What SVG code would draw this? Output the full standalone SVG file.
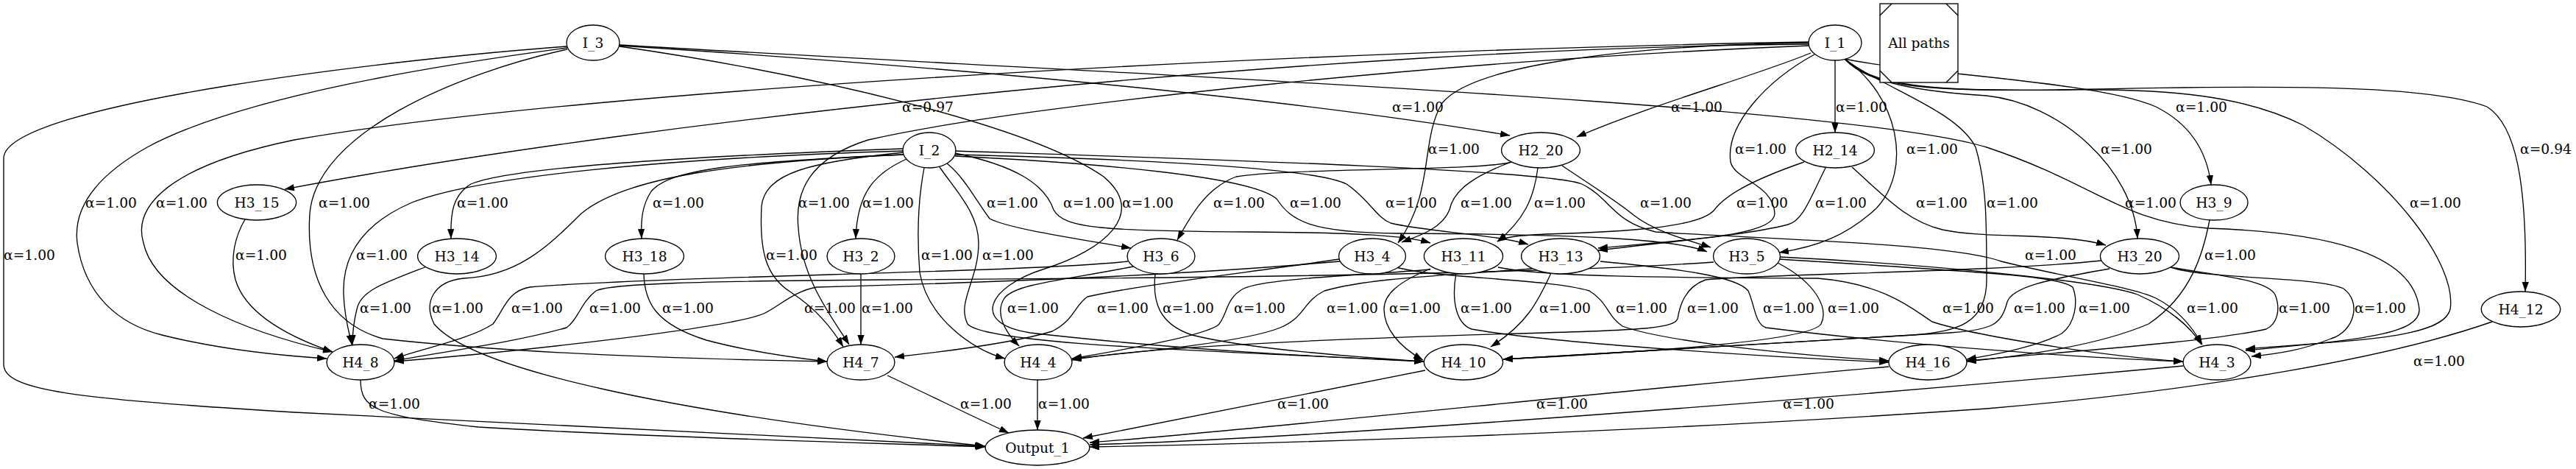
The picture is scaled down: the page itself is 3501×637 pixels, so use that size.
<svg xmlns="http://www.w3.org/2000/svg" width="3501" height="637" viewBox="0 0 3501 637">
<style>
.n ellipse{fill:#fff;stroke:#000;stroke-width:1.33}
text{font-family:"DejaVu Serif","Liberation Serif",serif;font-size:18.67px;text-anchor:middle;fill:#000}
.e path{fill:none;stroke:#000;stroke-width:1.33;marker-end:url(#a)}
</style>
<defs><marker id="a" markerWidth="14" markerHeight="10" refX="13" refY="4.65" orient="auto" markerUnits="userSpaceOnUse"><path d="M0,0 L13.3,4.65 L0,9.3 z" fill="#000"/></marker></defs>
<rect width="3501" height="637" fill="#fff"/>
<g class="e" id="edges">
<path d="M771,63 C560,78 5,140 5,215 L5,495 C5,530 100,542 400,560 L1338,606"/>
<path d="M771,65 C600,88 330,130 200,200 C120,245 100,290 105,330 C115,400 160,440 220,455 C300,475 380,483 444,487"/>
<path d="M771,67 C620,100 430,180 421,290 C415,380 450,440 520,460 C700,480 950,488 1124,491"/>
<path d="M842,62 C1200,85 1700,125 2052,184"/>
<path d="M842,61 C1500,100 2500,140 2700,200 C2850,250 2880,300 3000,310 C3150,315 3280,340 3288,420 C3290,455 3200,462 3052,476"/>
<path d="M842,63 C1100,100 1400,170 1500,240 C1560,290 1500,340 1420,365 C1340,390 1320,440 1400,452 C1600,475 1800,485 1935,491"/>
<path d="M2458,60 C1800,65 900,160 387,257"/>
<path d="M2461,72 C2380,105 2250,140 2143,186"/>
<path d="M2494,82 L2494,180"/>
<path d="M2507,80 C2600,100 2850,110 2930,145 C2980,170 3000,210 3005,251"/>
<path d="M2507,80 C2540,115 2600,125 2800,122 C3100,115 3300,115 3380,145 C3420,170 3435,250 3432,396"/>
<path d="M2458,58 C2200,62 2000,90 1960,140 C1930,190 1950,260 1900,330"/>
<path d="M2466,74 C2400,110 2345,170 2352,220 C2358,245 2410,250 2412,290 C2412,320 2300,325 2172,337"/>
<path d="M2507,80 C2580,130 2600,230 2550,283 C2510,320 2470,335 2418,343"/>
<path d="M2507,80 C2540,115 2620,125 2700,130 C2800,140 2900,230 2905,324"/>
<path d="M2458,57 C1800,68 800,120 400,190 C230,225 180,280 195,330 C210,400 330,450 452,478"/>
<path d="M2459,62 C2000,80 1400,140 1180,190 C1100,215 1080,260 1085,310 C1090,380 1130,430 1154,468"/>
<path d="M2507,80 C2560,120 2660,150 2685,200 C2700,250 2700,300 2700,380 C2700,440 2660,450 2600,455 C2400,468 2200,480 2043,488"/>
<path d="M2507,80 C2540,115 2620,125 2800,122 C2950,120 3050,130 3130,170 C3250,240 3340,360 3330,420 C3320,460 3200,462 3052,474"/>
<path d="M1227,202 C1000,210 700,225 640,250 C615,265 612,290 613,324"/>
<path d="M1228,210 C1000,220 910,230 885,260 C872,280 871,300 872,324"/>
<path d="M1232,216 C1190,235 1165,260 1163,324"/>
<path d="M1287,222 C1310,240 1325,270 1345,297 C1370,310 1450,322 1537,337"/>
<path d="M1298,208 C1380,225 1420,250 1432,285 C1445,310 1500,314 1700,315 C1850,316 1910,320 1944,330"/>
<path d="M1227,205 C900,215 650,240 560,275 C490,305 465,350 467,400 C468,430 474,450 478,468"/>
<path d="M1227,210 C1000,220 850,240 790,290 C740,340 700,375 630,378 C590,382 575,410 590,440 C640,500 900,560 1339,606"/>
<path d="M1228,207 C1100,220 1040,235 1035,280 C1032,340 1040,375 1075,397 C1110,420 1130,445 1146,471"/>
<path d="M1256,228 C1248,270 1246,320 1250,370 C1260,430 1320,475 1366,487"/>
<path d="M1277,227 C1300,260 1330,290 1330,330 C1330,380 1300,410 1315,440 C1340,470 1700,478 1935,491"/>
<path d="M1298,212 C1500,222 1700,240 1735,270 C1755,300 1780,316 1900,317 C2150,318 2280,325 2320,342"/>
<path d="M1297,210 C1500,215 1780,225 1830,250 C1860,270 1870,295 1890,303 C1940,315 2030,318 2077,332"/>
<path d="M1298,205 C1600,215 2100,230 2150,250 C2190,270 2190,300 2250,315 C2400,325 2650,330 2720,355 C2800,375 2900,390 2930,405 C2960,420 2980,445 2993,468"/>
<path d="M2054,220 C2020,232 1750,228 1680,240 C1640,255 1620,290 1600,326"/>
<path d="M2054,220 C2000,240 1975,260 1970,285 C1960,310 1930,320 1905,329"/>
<path d="M2090,228 C2085,270 2070,300 2035,328"/>
<path d="M2123,225 C2160,250 2200,275 2220,292 C2250,315 2290,325 2325,336"/>
<path d="M2517,227 C2560,265 2590,300 2640,312 C2700,325 2800,315 2862,333"/>
<path d="M2481,228 C2460,270 2450,300 2430,305 C2380,318 2300,325 2172,340"/>
<path d="M2452,220 C2380,245 2345,265 2330,285 C2310,310 2200,315 2100,318 C2060,320 2045,322 2035,328"/>
<path d="M333,298 C320,320 312,350 320,380 C335,430 400,460 452,478"/>
<path d="M580,362 C520,385 490,395 485,420 C480,440 479,455 479,468"/>
<path d="M875,372 C876,410 890,440 960,462 C1020,478 1080,486 1124,491"/>
<path d="M1170,372 L1170,468"/>
<path d="M1570,372 C1566,410 1575,440 1620,455 C1700,475 1850,485 1935,491"/>
<path d="M1944,366 C1850,374 1720,378 1690,392 C1665,405 1668,430 1655,442 C1630,458 1520,476 1457,487"/>
<path d="M1820,352 C1700,370 1560,385 1478,403 C1460,415 1460,435 1430,450 C1380,465 1280,478 1216,485"/>
<path d="M1944,365 C1900,383 1881,400 1881,420 C1881,445 1900,470 1934,489"/>
<path d="M1979,371 C1972,410 1980,440 2000,447 C2100,465 2400,485 2567,492"/>
<path d="M2108,371 C2090,410 2075,440 2026,471"/>
<path d="M2175,355 C2280,365 2360,375 2376,395 C2385,415 2385,440 2400,445 C2600,470 2850,487 2967,491"/>
<path d="M2416,357 C2470,385 2485,420 2475,440 C2460,465 2200,480 2043,488"/>
<path d="M2950,363 C3000,380 3150,375 3185,392 C3210,410 3200,450 3168,460 C3130,475 3100,480 3060,484"/>
<path d="M2419,352 C2700,370 2800,375 2817,390 C2825,410 2820,440 2802,453 C2770,470 2720,480 2673,488"/>
<path d="M3003,299 C2995,340 2980,400 2920,440 C2850,470 2750,483 2673,491"/>
<path d="M2419,349 C2600,358 2850,380 2905,400 C2950,420 2978,445 2992,468"/>
<path d="M2950,363 C3020,375 3080,380 3092,400 C3100,420 3095,440 3080,447 C3000,465 2800,478 2673,490"/>
<path d="M2867,365 C2780,380 2735,390 2728,410 C2720,440 2710,448 2650,452 C2400,465 2200,478 2043,488"/>
<path d="M2856,354 C2700,370 2400,372 2318,380 C2290,390 2283,415 2280,433 C2275,445 2240,448 2100,452 C1800,460 1550,472 1457,489"/>
<path d="M2082,365 C1950,375 1860,378 1800,395 C1770,410 1775,430 1740,445 C1690,465 1550,478 1457,487"/>
<path d="M1898,363 C1950,378 2100,378 2160,395 C2185,410 2185,430 2205,443 C2250,460 2400,480 2567,490"/>
<path d="M2036,363 C2100,377 2300,377 2470,378 C2560,385 2600,420 2626,437 C2680,455 2850,483 2967,491"/>
<path d="M1540,362 C1450,380 1380,385 1365,405 C1352,425 1365,450 1385,470"/>
<path d="M1533,355 C1400,370 900,375 720,390 C690,395 685,420 670,440 C640,460 580,472 536,487"/>
<path d="M2329,356 C2100,372 1600,378 1200,380 C950,382 830,385 810,395 C790,410 785,435 770,445 C700,465 600,478 536,490"/>
<path d="M1821,355 C1600,375 1300,385 1110,390 C1080,395 1060,415 1040,425 C1000,445 700,478 536,491"/>
<path d="M490,516 C490,555 510,565 650,580 C900,595 1200,602 1339,607"/>
<path d="M1206,510 C1260,535 1320,565 1371,588"/>
<path d="M1410,516 L1410,584"/>
<path d="M1937,503 C1800,530 1600,570 1472,595"/>
<path d="M2567,498 C2200,530 1700,585 1481,601"/>
<path d="M2967,497 C2500,540 1800,595 1481,604"/>
<path d="M3387,437 C3250,485 3000,530 2700,555 C2200,590 1700,603 1481,607"/>
</g>
<g id="labels">
<text x="1261" y="152">α=0.97</text><text x="1927" y="152">α=1.00</text><text x="2306" y="152">α=1.00</text><text x="2530" y="152">α=1.00</text><text x="2992" y="152">α=1.00</text>
<text x="1976" y="209">α=1.00</text><text x="2393" y="209">α=1.00</text><text x="2626" y="209">α=1.00</text><text x="2890" y="209">α=1.00</text><text x="3460" y="209">α=0.94</text>
<text x="151" y="282">α=1.00</text><text x="247" y="282">α=1.00</text><text x="468" y="282">α=1.00</text><text x="656" y="282">α=1.00</text><text x="922" y="282">α=1.00</text><text x="1120" y="282">α=1.00</text><text x="1207" y="282">α=1.00</text><text x="1376" y="282">α=1.00</text><text x="1480" y="282">α=1.00</text><text x="1560" y="282">α=1.00</text><text x="1684" y="282">α=1.00</text><text x="1788" y="282">α=1.00</text><text x="1918" y="282">α=1.00</text><text x="2020" y="282">α=1.00</text><text x="2120" y="282">α=1.00</text><text x="2264" y="282">α=1.00</text><text x="2395" y="282">α=1.00</text><text x="2502" y="282">α=1.00</text><text x="2639" y="282">α=1.00</text><text x="2735" y="282">α=1.00</text><text x="2923" y="282">α=1.00</text><text x="3310" y="282">α=1.00</text>
<text x="40" y="353">α=1.00</text><text x="355" y="353">α=1.00</text><text x="519" y="353">α=1.00</text><text x="1076" y="353">α=1.00</text><text x="1287" y="353">α=1.00</text><text x="1370" y="353">α=1.00</text><text x="2787" y="353">α=1.00</text><text x="3031" y="353">α=1.00</text>
<text x="524" y="425">α=1.00</text><text x="622" y="425">α=1.00</text><text x="730" y="425">α=1.00</text><text x="836" y="425">α=1.00</text><text x="935" y="425">α=1.00</text><text x="1128" y="425">α=1.00</text><text x="1206" y="425">α=1.00</text><text x="1404" y="425">α=1.00</text><text x="1526" y="425">α=1.00</text><text x="1615" y="425">α=1.00</text><text x="1712" y="425">α=1.00</text><text x="1838" y="425">α=1.00</text><text x="1923" y="425">α=1.00</text><text x="2020" y="425">α=1.00</text><text x="2127" y="425">α=1.00</text><text x="2231" y="425">α=1.00</text><text x="2328" y="425">α=1.00</text><text x="2431" y="425">α=1.00</text><text x="2519" y="425">α=1.00</text><text x="2675" y="425">α=1.00</text><text x="2772" y="425">α=1.00</text><text x="2860" y="425">α=1.00</text><text x="3007" y="425">α=1.00</text><text x="3132" y="425">α=1.00</text><text x="3235" y="425">α=1.00</text>
<text x="536" y="555">α=1.00</text><text x="1340" y="555">α=1.00</text><text x="1446" y="555">α=1.00</text><text x="1771" y="555">α=1.00</text><text x="2123" y="555">α=1.00</text><text x="2458" y="555">α=1.00</text><text x="3315" y="497">α=1.00</text>
</g>
<g class="n" id="I_3"><ellipse cx="806" cy="58" rx="36" ry="24"/><text x="806" y="65">I_3</text></g>
<g class="n" id="I_1"><ellipse cx="2494" cy="58" rx="36" ry="24"/><text x="2494" y="65">I_1</text></g>
<g id="All_paths"><rect x="2555" y="5" width="106" height="107" fill="#fff" stroke="#000" stroke-width="1.33"/><path d="M2555,21 L2571,5 M2645,5 L2661,21 M2661,96 L2645,112 M2571,112 L2555,96" stroke="#000" stroke-width="1.33" fill="none"/><text x="2608" y="65">All paths</text></g>
<g class="n" id="I_2"><ellipse cx="1263" cy="204" rx="36" ry="24"/><text x="1263" y="211">I_2</text></g>
<g class="n" id="H2_20"><ellipse cx="2094" cy="204" rx="53.4" ry="24"/><text x="2094" y="211">H2_20</text></g>
<g class="n" id="H2_14"><ellipse cx="2494" cy="204" rx="53.4" ry="24"/><text x="2494" y="211">H2_14</text></g>
<g class="n" id="H3_15"><ellipse cx="349" cy="275" rx="53.6" ry="24"/><text x="349" y="282">H3_15</text></g>
<g class="n" id="H3_9"><ellipse cx="3009" cy="275" rx="46" ry="24"/><text x="3009" y="282">H3_9</text></g>
<g class="n" id="H3_14"><ellipse cx="621" cy="348" rx="53.4" ry="24"/><text x="621" y="355">H3_14</text></g>
<g class="n" id="H3_18"><ellipse cx="876" cy="348" rx="53.4" ry="24"/><text x="876" y="355">H3_18</text></g>
<g class="n" id="H3_2"><ellipse cx="1170" cy="348" rx="46" ry="24"/><text x="1170" y="355">H3_2</text></g>
<g class="n" id="H3_6"><ellipse cx="1578" cy="348" rx="46" ry="24"/><text x="1578" y="355">H3_6</text></g>
<g class="n" id="H3_4"><ellipse cx="1865" cy="348" rx="45.5" ry="24"/><text x="1865" y="355">H3_4</text></g>
<g class="n" id="H3_11"><ellipse cx="1989" cy="348" rx="53.6" ry="24"/><text x="1989" y="355">H3_11</text></g>
<g class="n" id="H3_13"><ellipse cx="2121" cy="348" rx="53.4" ry="24"/><text x="2121" y="355">H3_13</text></g>
<g class="n" id="H3_5"><ellipse cx="2374" cy="348" rx="45.5" ry="24"/><text x="2374" y="355">H3_5</text></g>
<g class="n" id="H3_20"><ellipse cx="2908" cy="348" rx="53.5" ry="24"/><text x="2908" y="355">H3_20</text></g>
<g class="n" id="H4_12"><ellipse cx="3426" cy="420" rx="53.7" ry="24"/><text x="3426" y="427">H4_12</text></g>
<g class="n" id="H4_8"><ellipse cx="490" cy="492" rx="46" ry="24"/><text x="490" y="499">H4_8</text></g>
<g class="n" id="H4_7"><ellipse cx="1170" cy="492" rx="46" ry="24"/><text x="1170" y="499">H4_7</text></g>
<g class="n" id="H4_4"><ellipse cx="1411" cy="492" rx="46" ry="24"/><text x="1411" y="499">H4_4</text></g>
<g class="n" id="H4_10"><ellipse cx="1989" cy="492" rx="53.6" ry="24"/><text x="1989" y="499">H4_10</text></g>
<g class="n" id="H4_16"><ellipse cx="2620" cy="492" rx="53" ry="24"/><text x="2620" y="499">H4_16</text></g>
<g class="n" id="H4_3"><ellipse cx="3013" cy="492" rx="46" ry="24"/><text x="3013" y="499">H4_3</text></g>
<g class="n" id="Output_1"><ellipse cx="1410" cy="608" rx="70.8" ry="24"/><text x="1410" y="615">Output_1</text></g>
</svg>
